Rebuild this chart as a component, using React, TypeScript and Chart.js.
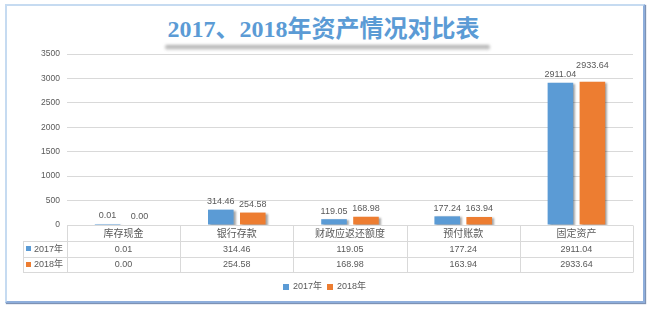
import React, { useEffect, useRef } from "react";
import { Chart, registerables } from "chart.js";

Chart.register(...registerables);

const TITLE = "2017、2018年资产情况对比表";
const categories = ["库存现金", "银行存款", "财政应返还额度", "预付账款", "固定资产"];
const seriesNames = ["2017年", "2018年"];
const values2017 = [0.01, 314.46, 119.05, 177.24, 2911.04];
const values2018 = [0.0, 254.58, 168.98, 163.94, 2933.64];
const seriesColors = ["#5b9bd5", "#ed7d31"];
const yMin = 0;
const yMax = 3500;
const yStep = 500;

const FONT = "'Liberation Sans', 'Noto Sans CJK SC', sans-serif";
const CJK = "'Noto Sans CJK SC', 'Liberation Sans', sans-serif";
const TEXT = "#595959";
const GRID = "#d9d9d9";

const fmt = (v: number) => v.toFixed(2);

const crisp = (v: number) => Math.round(v) + 0.5;

const effectsPlugin = {
  id: "excelEffects",
  beforeDatasetsDraw(chart: any) {
    const ctx = chart.ctx;
    ctx.save();
    ctx.shadowColor = "rgba(0,0,0,0.35)";
    ctx.shadowBlur = 2;
    ctx.shadowOffsetX = 2;
    ctx.shadowOffsetY = 1;
  },
  afterDatasetsDraw(chart: any) {
    const ctx = chart.ctx;
    ctx.restore();
    ctx.save();
    ctx.font = `9px ${FONT}`;
    ctx.fillStyle = TEXT;
    ctx.textAlign = "center";
    ctx.textBaseline = "middle";
    const m0 = chart.getDatasetMeta(0);
    const m1 = chart.getDatasetMeta(1);
    const d0 = chart.data.datasets[0].data as number[];
    const d1 = chart.data.datasets[1].data as number[];
    for (let i = 0; i < categories.length; i++) {
      const b0 = m0.data[i] as any;
      const b1 = m1.data[i] as any;
      const t0 = fmt(d0[i]);
      const t1 = fmt(d1[i]);
      let y0 = b0.y - 8;
      let y1 = b1.y - 8;
      const w0 = ctx.measureText(t0).width;
      const w1 = ctx.measureText(t1).width;
      const overlapX = (w0 + w1) / 2 + 4 > Math.abs(b1.x - b0.x);
      if (overlapX && Math.abs(y0 - y1) < 9) {
        if (b0.y <= b1.y) y0 = y1 - 9;
        else y1 = y0 - 9;
      }
      ctx.fillText(t0, b0.x, y0);
      ctx.fillText(t1, b1.x, y1);
    }
    ctx.restore();
  },
  afterDraw(chart: any) {
    const ctx = chart.ctx;
    const area = chart.chartArea;
    const n = categories.length;
    const left = area.left;
    const right = area.right;
    const cw = (right - left) / n;
    const top = area.bottom;
    const r1 = top + 16;
    const r2 = r1 + 15.5;
    const r3 = r2 + 15.5;
    const legendLeft = 23;

    ctx.save();
    ctx.strokeStyle = GRID;
    ctx.lineWidth = 1;
    ctx.beginPath();
    for (const yy of [r1, r2, r3]) {
      ctx.moveTo(legendLeft, crisp(yy));
      ctx.lineTo(right, crisp(yy));
    }
    ctx.moveTo(crisp(legendLeft), crisp(r1));
    ctx.lineTo(crisp(legendLeft), crisp(r3));
    for (let i = 0; i <= n; i++) {
      const xx = crisp(left + i * cw);
      ctx.moveTo(xx, crisp(top));
      ctx.lineTo(xx, crisp(r3));
    }
    ctx.stroke();

    ctx.fillStyle = TEXT;
    ctx.textAlign = "center";
    ctx.textBaseline = "middle";
    ctx.font = `10px ${CJK}`;
    categories.forEach((c, i) => {
      ctx.fillText(c, left + (i + 0.5) * cw, (top + r1) / 2 + 0.5);
    });
    ctx.font = `9px ${FONT}`;
    const rows = [chart.data.datasets[0].data, chart.data.datasets[1].data];
    rows.forEach((row: number[], ri: number) => {
      const yc = ri === 0 ? (r1 + r2) / 2 + 0.5 : (r2 + r3) / 2 + 0.5;
      row.forEach((v: number, i: number) => {
        ctx.fillText(fmt(v), left + (i + 0.5) * cw, yc);
      });
      ctx.fillStyle = seriesColors[ri];
      ctx.fillRect(26, Math.round(yc - 3), 5, 5);
      ctx.fillStyle = TEXT;
      ctx.textAlign = "left";
      ctx.fillText(chart.data.datasets[ri].label, 34, yc);
      ctx.textAlign = "center";
    });

    const ly = r3 + 14.5;
    ctx.font = `9px ${FONT}`;
    const items = chart.data.datasets.map((d: any, i: number) => ({
      label: d.label,
      color: seriesColors[i],
      w: ctx.measureText(d.label).width,
    }));
    const box = 6;
    const gapBox = 4;
    const gapItem = 5;
    let total = 0;
    items.forEach((it: any, i: number) => {
      total += box + gapBox + it.w + (i > 0 ? gapItem : 0);
    });
    let lx = chart.width / 2 - 2 - total / 2;
    ctx.textAlign = "left";
    items.forEach((it: any) => {
      ctx.fillStyle = it.color;
      ctx.fillRect(Math.round(lx), Math.round(ly - 3), box, box);
      lx += box + gapBox;
      ctx.fillStyle = TEXT;
      ctx.fillText(it.label, lx, ly);
      lx += it.w + gapItem;
    });
    ctx.restore();
  },
};

export default function App() {
  const ref = useRef<HTMLCanvasElement | null>(null);

  useEffect(() => {
    if (!ref.current) return;
    const chart = new Chart(ref.current, {
      type: "bar",
      data: {
        labels: categories,
        datasets: [
          {
            label: seriesNames[0],
            data: values2017,
            backgroundColor: seriesColors[0],
            minBarLength: 1,
            categoryPercentage: 0.565,
            barPercentage: 0.8,
          },
          {
            label: seriesNames[1],
            data: values2018,
            backgroundColor: seriesColors[1],
            categoryPercentage: 0.565,
            barPercentage: 0.8,
          },
        ],
      },
      options: {
        animation: false,
        responsive: false,
        devicePixelRatio: 1,
        layout: { padding: { top: 54, right: 20, bottom: 41, left: 0 } },
        plugins: {
          legend: { display: false },
          tooltip: { enabled: false },
          title: { display: false },
        },
        scales: {
          x: {
            ticks: { display: false },
            grid: { display: false },
            border: { display: false },
            afterFit: (s: any) => {
              s.height = 46;
            },
          },
          y: {
            min: yMin,
            max: yMax,
            ticks: {
              stepSize: yStep,
              padding: 7,
              color: TEXT,
              font: { family: FONT, size: 8.5 },
              callback: (v: any) => String(v),
            },
            grid: { color: GRID, drawTicks: false, lineWidth: 1 },
            border: { display: false },
            afterFit: (s: any) => {
              s.width = 67;
            },
          },
        },
      },
      plugins: [effectsPlugin],
    });
    return () => chart.destroy();
  }, []);

  return (
    <div
      style={{
        position: "fixed",
        left: 0,
        top: 0,
        width: 653,
        height: 312,
        background: "#ffffff",
        overflow: "hidden",
      }}
    >
      <div
        style={{
          position: "absolute",
          left: 5,
          top: 4,
          width: 636,
          height: 295,
          background: "#ffffff",
          borderTop: "2px solid #c6dbf1",
          borderLeft: "2px solid #c6dbf1",
          borderRight: "2px solid #8eaedb",
          borderBottom: "2px solid #8eaedb",
          boxShadow: "1px 1px 1px rgba(70,100,150,0.7)",
        }}
      />
      <div
        style={{
          position: "absolute",
          left: 165,
          top: 45,
          width: 325,
          height: 5,
          background:
            "linear-gradient(to bottom, rgba(150,150,150,0.9), rgba(200,200,200,0.6))",
          filter: "blur(1.5px)",
          borderRadius: 2,
        }}
      />
      <div
        style={{
          position: "absolute",
          left: 0,
          top: 17,
          width: 647,
          textAlign: "center",
          fontFamily: "'Liberation Serif', 'Noto Sans CJK SC', serif",
          fontWeight: "bold",
          fontSize: 24,
          lineHeight: "24px",
          color: "#5b9bd5",
          whiteSpace: "nowrap",
        }}
      >
        {TITLE}
      </div>
      <canvas
        ref={ref}
        width={653}
        height={312}
        style={{ position: "absolute", left: 0, top: 0, width: 653, height: 312 }}
      />
    </div>
  );
}
